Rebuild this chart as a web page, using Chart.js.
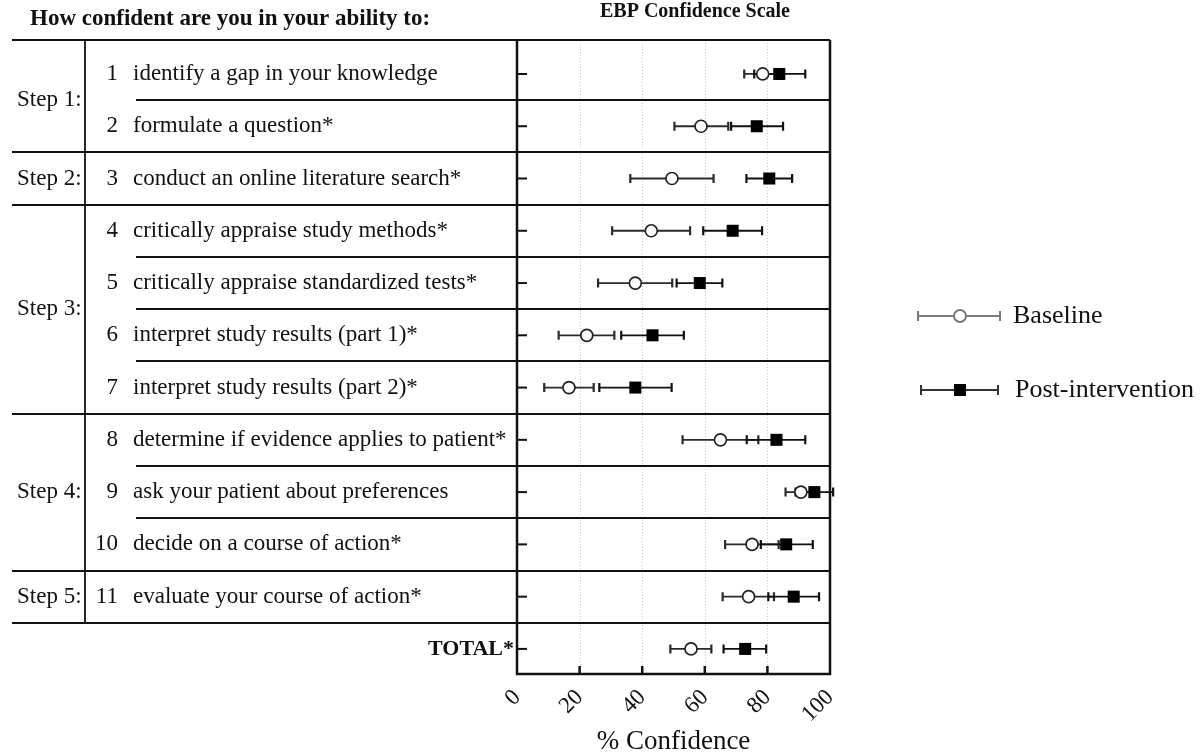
<!DOCTYPE html>
<html><head><meta charset="utf-8">
<script src="https://cdn.jsdelivr.net/npm/chart.js@4.4.1/dist/chart.umd.min.js"></script>
<style>html,body{margin:0;padding:0;background:#fff;} #wrap{width:1200px;height:754px;position:relative;}</style>
</head><body><div id="wrap"><canvas id="c" width="1200" height="754"></canvas></div>
<script>
const itemNumbers = ['1','2','3','4','5','6','7','8','9','10','11',''];
const itemLabels = ['identify a gap in your knowledge','formulate a question*','conduct an online literature search*','critically appraise study methods*','critically appraise standardized tests*','interpret study results (part 1)*','interpret study results (part 2)*','determine if evidence applies to patient*','ask your patient about preferences','decide on a course of action*','evaluate your course of action*','TOTAL*'];
const stepLabels = ['Step 1:','Step 2:','Step 3:','Step 4:','Step 5:'];
const stepFirstItem = [1,3,4,8,11];
const stepLastItem = [2,3,7,10,11];
const baselineMean = [78.5,58.8,49.5,42.9,37.8,22.3,16.6,65.0,90.7,75.1,74.0,55.6];
const baselineLow  = [72.6,50.3,36.2,30.4,25.9,13.3,8.7,52.9,85.8,66.5,65.7,49.0];
const baselineHigh = [84.4,67.5,62.8,55.3,49.6,31.1,24.5,77.1,95.6,83.6,82.1,62.1];
const postMean = [83.8,76.6,80.6,68.9,58.4,43.3,37.8,82.9,95.0,86.0,88.4,72.9];
const postLow  = [75.8,68.4,73.3,59.5,51.0,33.3,26.3,73.4,89.0,77.9,80.3,66.0];
const postHigh = [92.1,85.0,87.9,78.3,65.6,53.3,49.4,92.1,101,94.5,96.5,79.6];
const seriesNames = ['Baseline','Post-intervention'];
const chartTitle = 'EBP Confidence Scale';
const tableHeading = 'How confident are you in your ability to:';
const xAxisTitle = '% Confidence';

const SERIF = '"Liberation Serif", "Times New Roman", serif';
const INK = '#111';

function toPoints(means){ return means.map((m,i)=>({x:m,y:i+1})); }

const ebpPlugin = {
  id:'ebp',
  beforeDatasetsDraw(chart){
    const ctx = chart.ctx, xs = chart.scales.x, ys = chart.scales.y, a = chart.chartArea;
    ctx.save();
    // dotted gridlines
    ctx.strokeStyle = '#c8c8c8'; ctx.lineWidth = 1; ctx.setLineDash([1,2]);
    [20,40,60,80].forEach(v=>{
      const x = Math.round(xs.getPixelForValue(v))+0.5;
      ctx.beginPath(); ctx.moveTo(x,a.top); ctx.lineTo(x,a.bottom); ctx.stroke();
    });
    ctx.setLineDash([]);
    // error bars
    const bars = [[baselineLow,baselineHigh,'#2a2a2a'],[postLow,postHigh,'#111']];
    bars.forEach(([lo,hi,col])=>{
      ctx.strokeStyle = col;
      lo.forEach((l,i)=>{
        const y = ys.getPixelForValue(i+1);
        const x1 = xs.getPixelForValue(l), x2 = xs.getPixelForValue(hi[i]);
        ctx.lineWidth = 1.8;
        ctx.beginPath(); ctx.moveTo(x1,y); ctx.lineTo(x2,y); ctx.stroke();
        ctx.lineWidth = 2.2;
        ctx.beginPath(); ctx.moveTo(x1,y-4.5); ctx.lineTo(x1,y+4.5); ctx.moveTo(x2,y-4.5); ctx.lineTo(x2,y+4.5); ctx.stroke();
      });
    });
    ctx.restore();
  },
  afterDraw(chart){
    const ctx = chart.ctx, xs = chart.scales.x, ys = chart.scales.y, a = chart.chartArea;
    ctx.save();
    ctx.strokeStyle = '#111';
    // axes and frame
    ctx.lineWidth = 2.5;
    ctx.beginPath();
    ctx.moveTo(a.left, a.top); ctx.lineTo(a.left, a.bottom); ctx.lineTo(a.right, a.bottom); ctx.lineTo(a.right, a.top);
    ctx.stroke();
    // x tick marks (inward)
    [20,40,60,80].forEach(v=>{
      const x = xs.getPixelForValue(v);
      ctx.beginPath(); ctx.moveTo(x,a.bottom); ctx.lineTo(x,a.bottom-8); ctx.stroke();
    });
    // y tick marks
    ctx.lineWidth = 2;
    itemLabels.forEach((_,i)=>{
      const y = ys.getPixelForValue(i+1);
      ctx.beginPath(); ctx.moveTo(a.left,y); ctx.lineTo(a.left+10,y); ctx.stroke();
    });
    // table lines
    ctx.lineWidth = 1.8;
    ctx.beginPath(); ctx.moveTo(12,a.top); ctx.lineTo(a.right,a.top); ctx.stroke();
    const lastStepItem = stepLastItem[stepLastItem.length-1];
    for(let k=1;k<=lastStepItem;k++){
      const y = Math.round(ys.getPixelForValue(k+0.5));
      const isStepEnd = stepLastItem.includes(k);
      ctx.beginPath(); ctx.moveTo(isStepEnd?12:136,y); ctx.lineTo(a.right,y); ctx.stroke();
    }
    const yEnd = ys.getPixelForValue(lastStepItem+0.5);
    ctx.beginPath(); ctx.moveTo(85,a.top); ctx.lineTo(85,yEnd); ctx.stroke();
    // table text
    ctx.fillStyle = INK; ctx.textBaseline = 'middle';
    ctx.font = '23px '+SERIF;
    stepLabels.forEach((s,k)=>{
      const y = ys.getPixelForValue((stepFirstItem[k]+stepLastItem[k])/2);
      ctx.textAlign = 'left'; ctx.fillText(s,17,y);
    });
    itemLabels.forEach((t,i)=>{
      const y = ys.getPixelForValue(i+1);
      if(itemNumbers[i]){
        ctx.font = '23px '+SERIF;
        ctx.textAlign = 'right'; ctx.fillText(itemNumbers[i],118,y);
        ctx.textAlign = 'left'; ctx.fillText(t,133,y);
      } else {
        ctx.font = 'bold 22px '+SERIF;
        ctx.textAlign = 'right'; ctx.fillText(t,a.left-3,y);
      }
    });
    // headings
    ctx.font = 'bold 23px '+SERIF; ctx.textAlign='left';
    ctx.fillText(tableHeading,30,19);
    ctx.font = 'bold 20px '+SERIF; ctx.textAlign='center';
    ctx.fillText(chartTitle,695,12);
    // legend
    const legY = [316,390];
    ctx.lineWidth = 2;
    ctx.strokeStyle = '#7a7a7a';
    ctx.beginPath(); ctx.moveTo(918,legY[0]); ctx.lineTo(1000,legY[0]);
    ctx.moveTo(918,legY[0]-5); ctx.lineTo(918,legY[0]+5);
    ctx.moveTo(1000,legY[0]-5); ctx.lineTo(1000,legY[0]+5); ctx.stroke();
    ctx.fillStyle='#fff'; ctx.beginPath(); ctx.arc(960,legY[0],6,0,Math.PI*2); ctx.fill(); ctx.stroke();
    ctx.strokeStyle = '#333';
    ctx.beginPath(); ctx.moveTo(921,legY[1]); ctx.lineTo(998,legY[1]);
    ctx.moveTo(921,legY[1]-5); ctx.lineTo(921,legY[1]+5);
    ctx.moveTo(998,legY[1]-5); ctx.lineTo(998,legY[1]+5); ctx.stroke();
    ctx.fillStyle='#000'; ctx.fillRect(954,legY[1]-6,12,12);
    ctx.fillStyle = INK; ctx.font = '26px '+SERIF; ctx.textAlign='left';
    ctx.fillText(seriesNames[0],1013,legY[0]);
    ctx.fillText(seriesNames[1],1015,legY[1]);
    ctx.restore();
  }
};

new Chart(document.getElementById('c'), {
  type:'scatter',
  data:{ datasets:[
    { label:seriesNames[1], data:toPoints(postMean), pointStyle:'rect', pointRadius:8.5, pointHoverRadius:8.5,
      backgroundColor:'#000', borderColor:'#000', borderWidth:0, order:0 },
    { label:seriesNames[0], data:toPoints(baselineMean), pointStyle:'circle', pointRadius:6, pointHoverRadius:6,
      backgroundColor:'#fff', borderColor:'#222', borderWidth:1.7, order:1 }
  ]},
  options:{
    responsive:false, animation:false, devicePixelRatio:1,
    layout:{ padding:{ left:0, right:370, top:40, bottom:0 } },
    plugins:{ legend:{display:false}, tooltip:{enabled:false}, title:{display:false} },
    scales:{
      x:{ type:'linear', min:0, max:100, position:'bottom',
        grid:{ display:false }, border:{ display:false },
        ticks:{ stepSize:20, minRotation:45, maxRotation:45, padding:2, color:INK,
          font:{ family:SERIF, size:23 } },
        title:{ display:true, text:xAxisTitle, color:INK, font:{ family:SERIF, size:27 }, padding:{top:0,bottom:-4} },
        afterFit(s){ s.height = 80; } },
      y:{ type:'linear', reverse:true, min:0.35, max:12.48,
        grid:{ display:false }, border:{ display:false },
        ticks:{ display:false },
        afterFit(s){ s.width = 517; } }
    }
  },
  plugins:[ebpPlugin]
});
</script></body></html>
